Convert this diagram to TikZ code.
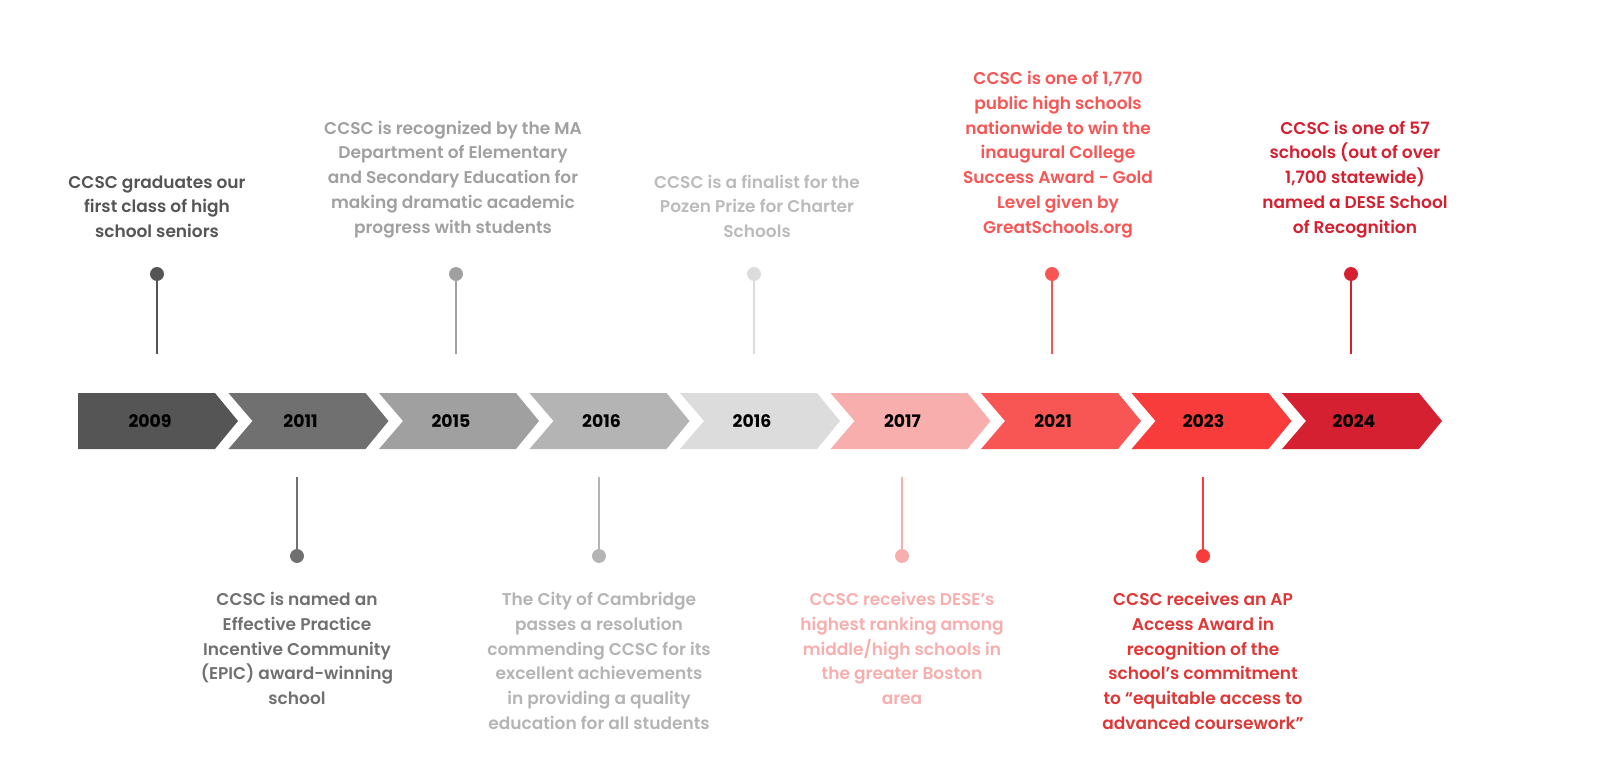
\documentclass[tikz,border=0pt]{standalone}
\usepackage{fontspec}
\setmainfont{Poppins}[BoldFont={Poppins SemiBold}]
\newfontfamily\yrfont{Poppins Bold}
\begin{document}
\begin{tikzpicture}[x=0.75bp,y=-0.75bp,
 yr/.style={font=\yrfont\fontsize{13}{15}\selectfont,text=black},
 ev/.style={font=\bfseries\fontsize{12.8}{18.6}\selectfont,align=center,inner sep=0pt},
 stem/.style={line width=2.2pt},
 dotc/.style={circle,inner sep=0pt,minimum size=10.5pt}]
\useasboundingbox (0,0) rectangle (1600,776);
\definecolor{c1}{HTML}{555555}\definecolor{c2}{HTML}{707070}\definecolor{c3}{HTML}{A0A0A0}
\definecolor{c4}{HTML}{B4B4B4}\definecolor{c5}{HTML}{DCDCDC}\definecolor{c6}{HTML}{F9AEAE}
\definecolor{c7}{HTML}{F85555}\definecolor{c8}{HTML}{F83C3C}\definecolor{c9}{HTML}{D42030}
\foreach \i/\c/\y in {0/c1/2009,1/c2/2011,2/c3/2015,3/c4/2016,4/c5/2016,5/c6/2017,6/c7/2021,7/c8/2023,8/c9/2024}{
 \pgfmathsetmacro{\xo}{78+150.5*\i}
 \ifnum\i=0
  \fill[\c] (\xo,393) -- (\xo+137,393) -- (\xo+160,421) -- (\xo+137,449) -- (\xo,449) -- cycle;
 \else
  \fill[\c] (\xo,393) -- (\xo+137,393) -- (\xo+160,421) -- (\xo+137,449) -- (\xo,449) -- (\xo+24,421) -- cycle;
 \fi
 \node[yr] (y\i) at (\xo+72,421) {\y};
}
% top events
\foreach \n/\x/\c in {a/157/c1,b/456/c3,c/754/c5,d/1052/c7,e/1351/c9}{
 \node[dotc,fill=\c] (d\n) at (\x,274) {};
 \coordinate (s\n) at (\x,354);
 \draw[stem,\c] (d\n.center) -- (s\n);
}
\foreach \n/\x/\c in {f/297/c2,g/599/c4,h/902/c6,i/1203/c8}{
 \node[dotc,fill=\c] (d\n) at (\x,556) {};
 \coordinate (s\n) at (\x,477);
 \draw[stem,\c] (d\n.center) -- (s\n);
}
\node[ev,text=c1,anchor=south] (ta) at (157,238) {CCSC graduates our\\first class of high\\school seniors};
\node[ev,text=c3,anchor=south] (tb) at (453,238) {CCSC is recognized by the MA\\Department of Elementary\\and Secondary Education for\\making dramatic academic\\progress with students};
\node[ev,text=c5!85!black,anchor=south] (tc) at (757,238) {CCSC is a finalist for the\\Pozen Prize for Charter\\Schools};
\node[ev,text=c7,anchor=south] (td) at (1058,238) {CCSC is one of 1,770\\public high schools\\nationwide to win the\\inaugural College\\Success Award - Gold\\Level given by\\GreatSchools.org};
\node[ev,text=c9,anchor=south] (te) at (1355,238) {CCSC is one of 57\\schools (out of over\\1,700 statewide)\\named a DESE School\\of Recognition};
\node[ev,text=c2,anchor=north] (tf) at (297,592) {CCSC is named an\\Effective Practice\\Incentive Community\\(EPIC) award-winning\\school};
\node[ev,text=c4,anchor=north] (tg) at (599,592) {The City of Cambridge\\passes a resolution\\commending CCSC for its\\excellent achievements\\in providing a quality\\education for all students};
\node[ev,text=c6,anchor=north] (th) at (902,592) {CCSC receives DESE’s\\highest ranking among\\middle/high schools in\\the greater Boston\\area};
\node[ev,text=c8!90!black,anchor=north] (ti) at (1203,592) {CCSC receives an AP\\Access Award in\\recognition of the\\school’s commitment\\to “equitable access to\\advanced coursework”};
\end{tikzpicture}
\end{document}
